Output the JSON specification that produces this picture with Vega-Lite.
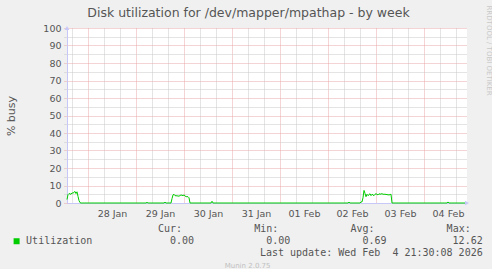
{
  "$schema": "https://vega.github.io/schema/vega-lite/v6.json",
  "background": "#f0f0f0",
  "padding": {"left": 5, "top": 5, "right": 0, "bottom": 0},
  "spacing": 0,
  "config": {
    "font": "DejaVu Sans",
    "view": {"stroke": null},
    "axis": {"labelFont": "DejaVu Sans", "titleFont": "DejaVu Sans"}
  },
  "vconcat": [
    {
      "width": 400,
      "height": 175,
      "view": {"fill": "#ffffff", "stroke": null},
      "title": {
        "text": "Disk utilization for /dev/mapper/mpathap - by week",
        "font": "DejaVu Sans",
        "fontSize": 12.5,
        "fontWeight": "normal",
        "color": "#555555",
        "anchor": "middle",
        "frame": "group",
        "dx": -18.5,
        "dy": 18,
        "offset": 4
      },
      "data": {
        "values": [
          {"t": "2026-01-27T13:30:00Z", "v": 2.0},
          {"t": "2026-01-27T14:00:00Z", "v": 4.8},
          {"t": "2026-01-27T14:30:00Z", "v": 5.4},
          {"t": "2026-01-27T15:30:00Z", "v": 5.0},
          {"t": "2026-01-27T16:00:00Z", "v": 5.8},
          {"t": "2026-01-27T16:30:00Z", "v": 5.6},
          {"t": "2026-01-27T17:30:00Z", "v": 6.6},
          {"t": "2026-01-27T18:00:00Z", "v": 5.4},
          {"t": "2026-01-27T18:30:00Z", "v": 6.4},
          {"t": "2026-01-27T19:00:00Z", "v": 3.8},
          {"t": "2026-01-27T19:30:00Z", "v": 1.4},
          {"t": "2026-01-27T20:00:00Z", "v": 0.2},
          {"t": "2026-01-27T20:30:00Z", "v": 0},
          {"t": "2026-01-29T05:00:00Z", "v": 0},
          {"t": "2026-01-29T05:30:00Z", "v": 0.4},
          {"t": "2026-01-29T06:00:00Z", "v": 0},
          {"t": "2026-01-29T14:00:00Z", "v": 0},
          {"t": "2026-01-29T14:30:00Z", "v": 0.5},
          {"t": "2026-01-29T15:00:00Z", "v": 0},
          {"t": "2026-01-29T17:30:00Z", "v": 0},
          {"t": "2026-01-29T18:00:00Z", "v": 2.5},
          {"t": "2026-01-29T18:30:00Z", "v": 4.6},
          {"t": "2026-01-29T19:00:00Z", "v": 5.0},
          {"t": "2026-01-29T19:30:00Z", "v": 4.2},
          {"t": "2026-01-29T20:30:00Z", "v": 4.1},
          {"t": "2026-01-29T21:30:00Z", "v": 3.9},
          {"t": "2026-01-29T22:30:00Z", "v": 4.6},
          {"t": "2026-01-29T23:30:00Z", "v": 4.2},
          {"t": "2026-01-30T00:00:00Z", "v": 4.6},
          {"t": "2026-01-30T01:00:00Z", "v": 3.6},
          {"t": "2026-01-30T02:00:00Z", "v": 3.6},
          {"t": "2026-01-30T02:30:00Z", "v": 3.0},
          {"t": "2026-01-30T03:00:00Z", "v": 0},
          {"t": "2026-01-30T13:30:00Z", "v": 0},
          {"t": "2026-01-30T14:00:00Z", "v": 1.0},
          {"t": "2026-01-30T14:30:00Z", "v": 0},
          {"t": "2026-02-02T10:00:00Z", "v": 0},
          {"t": "2026-02-02T10:30:00Z", "v": 0.5},
          {"t": "2026-02-02T11:00:00Z", "v": 0},
          {"t": "2026-02-02T16:00:00Z", "v": 0},
          {"t": "2026-02-02T16:30:00Z", "v": 0.6},
          {"t": "2026-02-02T17:00:00Z", "v": 0.6},
          {"t": "2026-02-02T17:30:00Z", "v": 3.0},
          {"t": "2026-02-02T18:00:00Z", "v": 7.2},
          {"t": "2026-02-02T18:30:00Z", "v": 5.5},
          {"t": "2026-02-02T19:00:00Z", "v": 3.6},
          {"t": "2026-02-02T19:30:00Z", "v": 5.0},
          {"t": "2026-02-02T20:00:00Z", "v": 4.2},
          {"t": "2026-02-02T21:00:00Z", "v": 5.3},
          {"t": "2026-02-02T21:30:00Z", "v": 4.2},
          {"t": "2026-02-02T22:00:00Z", "v": 5.0},
          {"t": "2026-02-02T23:00:00Z", "v": 4.2},
          {"t": "2026-02-02T23:30:00Z", "v": 5.0},
          {"t": "2026-02-03T00:00:00Z", "v": 5.3},
          {"t": "2026-02-03T01:00:00Z", "v": 4.6},
          {"t": "2026-02-03T01:30:00Z", "v": 5.3},
          {"t": "2026-02-03T02:00:00Z", "v": 5.0},
          {"t": "2026-02-03T03:00:00Z", "v": 5.3},
          {"t": "2026-02-03T03:30:00Z", "v": 5.0},
          {"t": "2026-02-03T04:30:00Z", "v": 5.0},
          {"t": "2026-02-03T05:30:00Z", "v": 4.8},
          {"t": "2026-02-03T06:30:00Z", "v": 4.6},
          {"t": "2026-02-03T07:30:00Z", "v": 5.0},
          {"t": "2026-02-03T08:00:00Z", "v": 0},
          {"t": "2026-02-04T11:30:00Z", "v": 0},
          {"t": "2026-02-04T12:00:00Z", "v": 0.6},
          {"t": "2026-02-04T12:30:00Z", "v": 0},
          {"t": "2026-02-04T21:30:00Z", "v": 0}
        ]
      },
      "layer": [
        {
          "mark": {"type": "rule", "opacity": 0},
          "encoding": {
            "x": {
              "field": "t",
              "type": "temporal",
              "scale": {"type": "utc", "domain": [1769520600000, 1770240600000]},
              "axis": {
                "orient": "bottom",
                "title": null,
                "values": [1769529600000, 1769587200000, 1769616000000, 1769673600000, 1769702400000, 1769760000000, 1769788800000, 1769846400000, 1769875200000, 1769932800000, 1769961600000, 1770019200000, 1770048000000, 1770105600000, 1770134400000, 1770192000000, 1770220800000],
                "labels": false,
                "ticks": false,
                "domain": false,
                "grid": true,
                "gridColor": "#c8c8c8",
                "gridDash": [1, 1]
              }
            },
            "y": {
              "field": "v",
              "type": "quantitative",
              "scale": {"domain": [0, 100], "nice": false},
              "axis": {
                "orient": "left",
                "title": null,
                "values": [5, 15, 25, 35, 45, 55, 65, 75, 85, 95],
                "labels": false,
                "ticks": true,
                "tickSize": 3,
                "tickColor": "#c8c8c8",
                "tickDash": [1, 1],
                "domain": false,
                "grid": true,
                "gridColor": "#c8c8c8",
                "gridDash": [1, 1]
              }
            }
          }
        },
        {
          "mark": {"type": "line", "color": "#00cc00", "strokeWidth": 1, "clip": false},
          "encoding": {
            "x": {
              "field": "t",
              "type": "temporal",
              "scale": {"type": "utc", "domain": [1769520600000, 1770240600000]},
              "axis": {
                "orient": "bottom",
                "title": null,
                "zindex": 0,
                "values": [1769558400000, 1769644800000, 1769731200000, 1769817600000, 1769904000000, 1769990400000, 1770076800000, 1770163200000],
                "labels": false,
                "ticks": false,
                "grid": true,
                "gridColor": "#e8a8a8",
                "gridDash": [1, 1],
                "domainColor": "#c8c8f8"
              }
            },
            "y": {
              "field": "v",
              "type": "quantitative",
              "scale": {"domain": [0, 100], "nice": false},
              "axis": {
                "orient": "left",
                "zindex": 0,
                "title": "% busy",
                "titleFontSize": 11,
                "titleFontWeight": "normal",
                "titleColor": "#555555",
                "titleX": -56,
                "titleY": 87.5,
                "titleAlign": "center",
                "titleBaseline": "middle",
                "values": [0, 10, 20, 30, 40, 50, 60, 70, 80, 90, 100],
                "labelFontSize": 9.5,
                "labelColor": "#555555",
                "labelPadding": 3,
                "tickSize": 3,
                "tickColor": "#e8a8a8",
                "tickDash": [1, 1],
                "grid": true,
                "gridColor": "#e8a8a8",
                "gridDash": [1, 1],
                "domainColor": "#c8c8f8"
              }
            }
          }
        },
        {
          "mark": {"type": "rule", "opacity": 0},
          "encoding": {
            "x": {
              "field": "t",
              "type": "temporal",
              "scale": {"type": "utc", "domain": [1769520600000, 1770240600000]},
              "axis": {
                "orient": "bottom",
                "title": null,
                "values": [1769601600000, 1769688000000, 1769774400000, 1769860800000, 1769947200000, 1770033600000, 1770120000000, 1770206400000],
                "format": "%d %b",
                "labelOverlap": false,
                "labelFlush": false,
                "labelFontSize": 9.5,
                "labelColor": "#555555",
                "labelPadding": 5,
                "ticks": false,
                "domain": false,
                "grid": false
              }
            },
            "y": {
              "field": "v",
              "type": "quantitative",
              "scale": {"domain": [0, 100], "nice": false},
              "axis": {
                "orient": "right",
                "title": "RRDTOOL / TOBI OETIKER",
                "titleFontSize": 7,
                "titleFontWeight": "normal",
                "titleColor": "#c8c8c8",
                "titleAngle": 90,
                "titleX": 21,
                "titleY": -23,
                "titleAlign": "left",
                "titleBaseline": "middle",
                "labels": false,
                "ticks": false,
                "domain": false,
                "grid": false
              }
            }
          }
        },
        {
          "data": {
            "values": [
              {"t": "2026-01-27T13:30:00Z", "v": 100, "arrow": "up"},
              {"t": "2026-02-04T21:30:00Z", "v": 0, "arrow": "right"}
            ]
          },
          "mark": {"type": "point", "filled": true, "opacity": 1, "size": 22, "strokeWidth": 0, "color": "#c8c8f8"},
          "encoding": {
            "x": {"field": "t", "type": "temporal", "scale": {"type": "utc", "domain": [1769520600000, 1770240600000]}, "axis": null},
            "y": {"field": "v", "type": "quantitative", "scale": {"domain": [0, 100], "nice": false}, "axis": null},
            "shape": {
              "field": "arrow",
              "type": "nominal",
              "scale": {"domain": ["up", "right"], "range": ["triangle-up", "triangle-right"]},
              "legend": null
            },
            "xOffset": {"condition": {"test": "datum.arrow === 'right'", "value": 3}, "value": 0},
            "yOffset": {"condition": {"test": "datum.arrow === 'up'", "value": -4}, "value": 0}
          }
        }
      ],
      "resolve": {"axis": {"x": "independent", "y": "independent"}}
    },
    {
      "width": 400,
      "height": 50,
      "data": {
        "values": [
          {"row": "head", "col": "Cur", "role": "head", "text": "Cur:"},
          {"row": "head", "col": "Min", "role": "head", "text": "Min:"},
          {"row": "head", "col": "Avg", "role": "head", "text": "Avg:"},
          {"row": "head", "col": "Max", "role": "head", "text": "Max:"},
          {"row": "vals", "col": "label", "role": "swatch", "text": ""},
          {"row": "vals", "col": "label", "role": "label", "text": "Utilization"},
          {"row": "vals", "col": "Cur", "role": "val", "text": "0.00"},
          {"row": "vals", "col": "Min", "role": "val", "text": "0.00"},
          {"row": "vals", "col": "Avg", "role": "val", "text": "0.69"},
          {"row": "vals", "col": "Max", "role": "val", "text": "12.62"},
          {"row": "upd", "col": "Max", "role": "val", "text": "Last update: Wed Feb\u00a0 4 21:30:08 2026"},
          {"row": "foot", "col": "label", "role": "foot", "text": "Munin 2.0.75"}
        ]
      },
      "encoding": {
        "x": {
          "field": "col",
          "type": "nominal",
          "scale": {"type": "point", "padding": 0, "domain": ["label", "Cur", "Min", "Avg", "Max"], "range": [30.8, 415.7]},
          "axis": null
        },
        "y": {
          "field": "row",
          "type": "nominal",
          "scale": {"type": "point", "padding": 0, "domain": ["head", "vals", "upd", "foot"], "range": [11, 47.7]},
          "axis": null
        }
      },
      "layer": [
        {
          "transform": [{"filter": "datum.role === 'head'"}],
          "mark": {"type": "text", "align": "right", "baseline": "middle", "dx": -12, "font": "DejaVu Sans Mono", "fontSize": 10, "color": "#555555"},
          "encoding": {"text": {"field": "text"}}
        },
        {
          "transform": [{"filter": "datum.role === 'val'"}],
          "mark": {"type": "text", "align": "right", "baseline": "middle", "font": "DejaVu Sans Mono", "fontSize": 10, "color": "#555555"},
          "encoding": {"text": {"field": "text"}}
        },
        {
          "transform": [{"filter": "datum.role === 'label'"}],
          "mark": {"type": "text", "align": "left", "baseline": "middle", "dx": -71.7, "font": "DejaVu Sans Mono", "fontSize": 10, "color": "#555555"},
          "encoding": {"text": {"field": "text"}}
        },
        {
          "transform": [{"filter": "datum.role === 'swatch'"}],
          "mark": {"type": "point", "shape": "square", "filled": true, "size": 36, "opacity": 1, "strokeWidth": 0, "color": "#00cc00", "xOffset": -81.2},
          "encoding": {}
        },
        {
          "transform": [{"filter": "datum.role === 'foot'"}],
          "mark": {"type": "text", "align": "center", "baseline": "middle", "dx": 149.8, "font": "DejaVu Sans", "fontSize": 7, "color": "#c0c0c0"},
          "encoding": {"text": {"field": "text"}}
        }
      ]
    }
  ]
}
